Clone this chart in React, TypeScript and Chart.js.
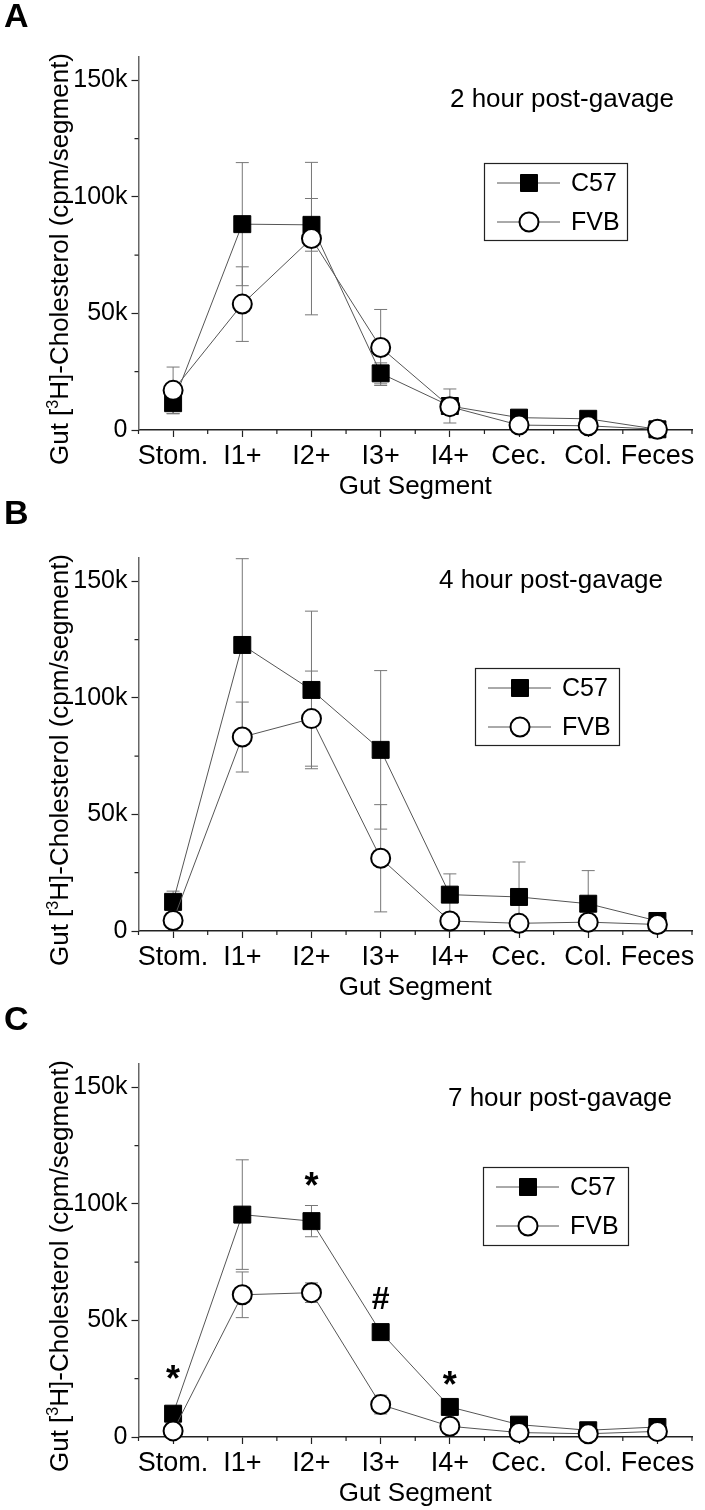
import React, { useEffect, useRef } from 'react';
import { Chart, registerables } from 'chart.js';

Chart.register(...registerables);

const FONT = "'Liberation Sans', Arial, Helvetica, sans-serif";

// ---------- data ----------
const categories = ['Stom.', 'I1+', 'I2+', 'I3+', 'I4+', 'Cec.', 'Col.', 'Feces'];
const yTickValues = [0, 25000, 50000, 75000, 100000, 125000, 150000];
const yMajorTicks = [0, 50000, 100000, 150000];
const yTickLabels = ['0', '50k', '100k', '150k'];
const yMax = 160000;
const seriesNames = ['C57', 'FVB'];
const panelLetters = ['A', 'B', 'C'];
const panelTitles = ['2 hour post-gavage', '4 hour post-gavage', '7 hour post-gavage'];
const xAxisTitle = 'Gut Segment';
const yAxisTitleParts = ['Gut [', '3', 'H]-Cholesterol (cpm/segment)'];

// 2 hour
const c57_2h = [11500, 88300, 88000, 24300, 10300, 5300, 4800, 300];
const c57_2h_err = [4500, 26400, 11300, 4500, 7300, 1000, 1000, 500];
const fvb_2h = [17000, 54000, 82100, 35400, 10000, 2100, 1800, 300];
const fvb_2h_err = [10000, 16000, 32700, 16300, 1500, 1000, 1000, 500];

// 4 hour
const c57_4h = [12500, 122700, 103400, 77700, 15600, 14600, 11700, 4300];
const c57_4h_err = [4600, 37000, 33800, 34000, 8900, 15000, 14200, 1000];
const fvb_4h = [4500, 83200, 91100, 31200, 4300, 3300, 3800, 2800];
const fvb_4h_err = [1000, 15000, 20400, 23000, 1500, 1000, 1000, 1000];

// 7 hour
const c57_7h = [10000, 95400, 92600, 45000, 12900, 5300, 2900, 4300];
const c57_7h_err = [1500, 23500, 6700, 1500, 1500, 1000, 1000, 1000];
const fvb_7h = [2600, 61000, 61900, 13900, 4600, 1900, 1400, 2400];
const fvb_7h_err = [1000, 9800, 4200, 4000, 1500, 800, 800, 800];

// significance marks (7 hour)
const annot7hLabels = ['*', '*', '#', '*'];
const annot7hCategory = [0, 2, 3, 4];
const annot7hValue = [27500, 110000, 58500, 25000];

// ---------- layout ----------
const PANELS = [
  {
    top: 0, height: 501, letterIdx: 0, titleIdx: 0,
    titleX: 562, titleY: 100, letterY: 18,
    legend: { x: 484, y: 163, w: 143, h: 77 },
    c57: c57_2h, c57Err: c57_2h_err, fvb: fvb_2h, fvbErr: fvb_2h_err,
    annot: false,
  },
  {
    top: 501, height: 506, letterIdx: 1, titleIdx: 1,
    titleX: 551, titleY: 80, letterY: 14,
    legend: { x: 475, y: 167, w: 144, h: 77 },
    c57: c57_4h, c57Err: c57_4h_err, fvb: fvb_4h, fvbErr: fvb_4h_err,
    annot: false,
  },
  {
    top: 1007, height: 503, letterIdx: 2, titleIdx: 2,
    titleX: 560, titleY: 92, letterY: 14,
    legend: { x: 483, y: 160, w: 145, h: 78 },
    c57: c57_7h, c57Err: c57_7h_err, fvb: fvb_7h, fvbErr: fvb_7h_err,
    annot: true,
  },
];

const ZERO_Y = 430;
const TOP_Y = 57;
const LEFT_X = 138.5;
const RIGHT_PAD = 3.5;

function drawMarker(ctx: CanvasRenderingContext2D, style: string, x: number, y: number, r: number, fill: string, stroke: string, bw: number) {
  ctx.save();
  ctx.fillStyle = fill;
  ctx.strokeStyle = stroke;
  ctx.lineWidth = bw;
  ctx.beginPath();
  if (style === 'rect') {
    const s = r * Math.SQRT1_2;
    ctx.rect(x - s, y - s, 2 * s, 2 * s);
  } else {
    ctx.arc(x, y, r, 0, Math.PI * 2);
  }
  ctx.fill();
  ctx.stroke();
  ctx.restore();
}

function Panel({ cfg }: { cfg: any }) {
  const ref = useRef<HTMLCanvasElement | null>(null);

  useEffect(() => {
    const canvas = ref.current;
    if (!canvas) return;
    const H = cfg.height;

    const errorBars = {
      id: 'errorBars',
      beforeDatasetsDraw(chart: any) {
        const ctx = chart.ctx;
        const xs = chart.scales.x;
        const ys = chart.scales.y;
        ctx.save();
        chart.data.datasets.forEach((ds: any) => {
          ds.data.forEach((p: any, j: number) => {
            const e = ds.errors[j];
            if (!e) return;
            const x = xs.getPixelForValue(p.x);
            const y1 = ys.getPixelForValue(p.y + e);
            const y2 = ys.getPixelForValue(Math.max(0, p.y - e));
            ctx.strokeStyle = '#777';
            ctx.lineWidth = 1;
            ctx.beginPath();
            ctx.moveTo(x, y1); ctx.lineTo(x, y2);
            ctx.moveTo(x - 6.5, y1); ctx.lineTo(x + 6.5, y1);
            ctx.moveTo(x - 6.5, y2); ctx.lineTo(x + 6.5, y2);
            ctx.stroke();
          });
        });
        ctx.restore();
      },
    };

    const extras = {
      id: 'extras',
      afterDraw(chart: any) {
        const ctx = chart.ctx;
        const xs = chart.scales.x;
        const ys = chart.scales.y;
        ctx.save();
        // minor ticks
        ctx.strokeStyle = '#222';
        ctx.lineWidth = 1.2;
        ctx.beginPath();
        xs.ticks.forEach((t: any) => {
          if (!Number.isInteger(t.value)) {
            const x = xs.getPixelForValue(t.value);
            ctx.moveTo(x, ys.bottom); ctx.lineTo(x, ys.bottom + 4);
          }
        });
        ys.ticks.forEach((t: any) => {
          if (yMajorTicks.indexOf(t.value) < 0) {
            const y = ys.getPixelForValue(t.value);
            ctx.moveTo(xs.left, y); ctx.lineTo(xs.left - 4, y);
          }
        });
        ctx.stroke();

        // y-axis title (rotated, with superscript)
        ctx.fillStyle = '#000';
        const fs = 26;
        const supFs = 16;
        ctx.font = `${fs}px ${FONT}`;
        const w0 = ctx.measureText(yAxisTitleParts[0]).width;
        const w2 = ctx.measureText(yAxisTitleParts[2]).width;
        ctx.font = `${supFs}px ${FONT}`;
        const w1 = ctx.measureText(yAxisTitleParts[1]).width;
        const total = w0 + w1 + w2;
        const cy = 259;
        const bx = 68;
        ctx.translate(bx, cy);
        ctx.rotate(-Math.PI / 2);
        ctx.textBaseline = 'alphabetic';
        ctx.textAlign = 'left';
        let px = -total / 2;
        ctx.font = `${fs}px ${FONT}`;
        ctx.fillText(yAxisTitleParts[0], px, 0);
        px += w0;
        ctx.font = `${supFs}px ${FONT}`;
        ctx.fillText(yAxisTitleParts[1], px, -10);
        px += w1;
        ctx.font = `${fs}px ${FONT}`;
        ctx.fillText(yAxisTitleParts[2], px, 0);
        ctx.setTransform(1, 0, 0, 1, 0, 0);

        // panel letter
        ctx.font = `bold 34px ${FONT}`;
        ctx.textAlign = 'left';
        ctx.textBaseline = 'middle';
        ctx.fillText(panelLetters[cfg.letterIdx], 4, cfg.letterY);

        // panel title
        ctx.font = `26px ${FONT}`;
        ctx.textAlign = 'center';
        ctx.fillText(panelTitles[cfg.titleIdx], cfg.titleX, cfg.titleY);

        // legend
        const L = cfg.legend;
        ctx.strokeStyle = '#222';
        ctx.lineWidth = 1.2;
        ctx.strokeRect(L.x + 0.5, L.y + 0.5, L.w, L.h);
        chart.data.datasets.forEach((ds: any, i: number) => {
          const ry = L.y + 20 + i * 39;
          ctx.strokeStyle = ds.borderColor;
          ctx.lineWidth = ds.borderWidth;
          ctx.beginPath();
          ctx.moveTo(L.x + 13, ry); ctx.lineTo(L.x + 76, ry);
          ctx.stroke();
          drawMarker(ctx, ds.pointStyle, L.x + 45, ry, ds.pointRadius, ds.pointBackgroundColor, ds.pointBorderColor, ds.pointBorderWidth);
          ctx.fillStyle = '#000';
          ctx.font = `25px ${FONT}`;
          ctx.textAlign = 'left';
          ctx.textBaseline = 'middle';
          ctx.fillText(ds.label, L.x + 87, ry + 1);
        });

        // significance marks
        if (cfg.annot) {
          ctx.fillStyle = '#000';
          ctx.textAlign = 'center';
          ctx.textBaseline = 'middle';
          annot7hLabels.forEach((lab, k) => {
            const x = xs.getPixelForValue(annot7hCategory[k]);
            const y = ys.getPixelForValue(annot7hValue[k]);
            if (lab === '*') {
              ctx.font = `bold 36px ${FONT}`;
              ctx.fillText(lab, x, y + 8);
            } else {
              ctx.font = `bold 32px ${FONT}`;
              ctx.fillText(lab, x, y);
            }
          });
        }
        ctx.restore();
      },
    };

    const chart = new Chart(canvas, {
      type: 'line',
      data: {
        datasets: [
          {
            label: seriesNames[0],
            data: cfg.c57.map((v: number, i: number) => ({ x: i, y: v })),
            errors: cfg.c57Err,
            borderColor: '#555',
            borderWidth: 1,
            pointStyle: 'rect',
            pointRadius: 12,
            pointBackgroundColor: '#000',
            pointBorderColor: '#000',
            pointBorderWidth: 1,
            order: 2,
            clip: false,
          } as any,
          {
            label: seriesNames[1],
            data: cfg.fvb.map((v: number, i: number) => ({ x: i, y: v })),
            errors: cfg.fvbErr,
            borderColor: '#555',
            borderWidth: 1,
            pointStyle: 'circle',
            pointRadius: 9.5,
            pointBackgroundColor: '#fff',
            pointBorderColor: '#000',
            pointBorderWidth: 2,
            order: 1,
            clip: false,
          } as any,
        ],
      },
      options: {
        animation: false,
        responsive: false,
        maintainAspectRatio: false,
        events: [],
        layout: { padding: { top: TOP_Y, right: RIGHT_PAD, left: 0, bottom: 0 } },
        plugins: { legend: { display: false }, tooltip: { enabled: false }, title: { display: false } },
        scales: {
          x: {
            type: 'linear',
            min: -0.5,
            max: categories.length - 0.5,
            afterBuildTicks: (s: any) => {
              const t: any[] = [];
              for (let i = 0; i <= categories.length * 2; i++) t.push({ value: -0.5 + i * 0.5 });
              s.ticks = t;
            },
            ticks: {
              autoSkip: false,
              maxRotation: 0,
              minRotation: 0,
              padding: 3,
              color: '#000',
              font: { family: FONT, size: 27 },
              callback: (v: any) => (Number.isInteger(v) ? categories[v] : ''),
            },
            grid: {
              display: true,
              drawOnChartArea: false,
              drawTicks: true,
              tickLength: 7,
              tickWidth: 1.2,
              tickColor: (c: any) => (c.tick && Number.isInteger(c.tick.value) ? '#222' : 'rgba(0,0,0,0)'),
            },
            border: { display: true, color: '#222', width: 1.5 },
            title: {
              display: true,
              text: xAxisTitle,
              color: '#000',
              font: { family: FONT, size: 26 },
              padding: { top: 0, bottom: H - 502 },
            },
            afterFit: (s: any) => { s.height = H - ZERO_Y; },
          },
          y: {
            type: 'linear',
            min: 0,
            max: yMax,
            afterBuildTicks: (s: any) => {
              s.ticks = yTickValues.map((v) => ({ value: v }));
            },
            ticks: {
              autoSkip: false,
              padding: 4,
              color: '#000',
              font: { family: FONT, size: 25 },
              callback: (v: any) => {
                const k = yMajorTicks.indexOf(v);
                return k >= 0 ? yTickLabels[k] : '';
              },
            },
            grid: {
              display: true,
              drawOnChartArea: false,
              drawTicks: true,
              tickLength: 7,
              tickWidth: 1.2,
              tickColor: (c: any) => (c.tick && yMajorTicks.indexOf(c.tick.value) >= 0 ? '#222' : 'rgba(0,0,0,0)'),
            },
            border: { display: true, color: '#666', width: 1.5 },
            afterFit: (s: any) => { s.width = LEFT_X; },
          },
        },
      } as any,
      plugins: [errorBars, extras],
    });

    return () => chart.destroy();
  }, [cfg]);

  return (
    <canvas
      ref={ref}
      width={705}
      height={cfg.height}
      style={{ position: 'absolute', left: 0, top: cfg.top, width: 705, height: cfg.height, display: 'block' }}
    />
  );
}

export default function App() {
  return (
    <div style={{ position: 'absolute', left: 0, top: 0, width: 705, height: 1510, background: '#fff', overflow: 'hidden' }}>
      {PANELS.map((p, i) => (
        <Panel key={i} cfg={p} />
      ))}
    </div>
  );
}
